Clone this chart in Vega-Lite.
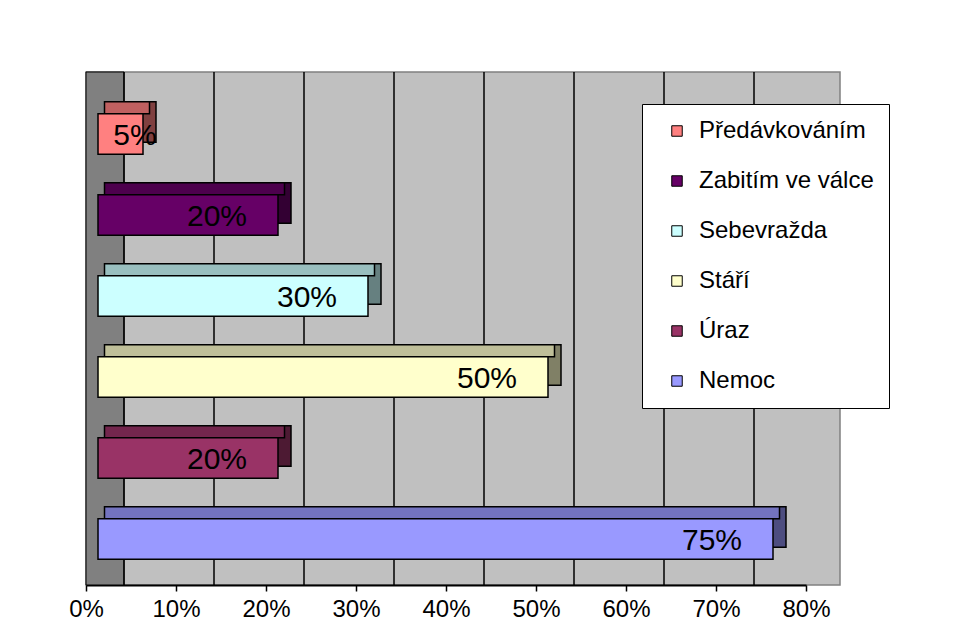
{
  "$schema": "https://vega.github.io/schema/vega-lite/v6.json",
  "width": 754,
  "height": 513,
  "autosize": {"type": "none"},
  "padding": {"left": 86, "top": 72, "right": 128, "bottom": 54},
  "background": "white",
  "config": {
    "view": {"fill": "#C0C0C0", "stroke": "#808080", "strokeWidth": 1.5},
    "font": "Liberation Sans"
  },
  "datasets": {
    "bars": [
      {"cause": "Předávkováním", "value": 0.05},
      {"cause": "Zabitím ve válce", "value": 0.20},
      {"cause": "Sebevražda", "value": 0.30},
      {"cause": "Stáří", "value": 0.50},
      {"cause": "Úraz", "value": 0.20},
      {"cause": "Nemoc", "value": 0.75}
    ],
    "grid": [
      {"value": 0}, {"value": 0.1}, {"value": 0.2}, {"value": 0.3},
      {"value": 0.4}, {"value": 0.5}, {"value": 0.6}, {"value": 0.7}
    ]
  },
  "encoding": {
    "x": {
      "field": "value",
      "type": "quantitative",
      "scale": {"domain": [0, 0.8], "range": [12, 732], "nice": false, "zero": true},
      "axis": {
        "format": ".0%",
        "values": [0, 0.1, 0.2, 0.3, 0.4, 0.5, 0.6, 0.7, 0.8],
        "title": null,
        "grid": false,
        "labelFlush": false,
        "labelFontSize": 24,
        "labelFont": "Liberation Sans",
        "labelColor": "black",
        "domainColor": "black",
        "domainWidth": 2,
        "tickColor": "black",
        "tickSize": 6,
        "tickWidth": 1.5,
        "labelPadding": 6,
        "translate": -11.5,
        "offset": 12
      }
    }
  },
  "layer": [
    {
      "data": {"name": "grid"},
      "transform": [{"filter": "datum.value == 0"}],
      "mark": {"type": "rect", "xOffset": -12, "x2Offset": 26, "fill": "#808080", "stroke": "black", "strokeWidth": 1},
      "encoding": {"x2": {"field": "value"}}
    },
    {
      "data": {"name": "grid"},
      "mark": {"type": "rule", "xOffset": 26, "color": "black", "strokeWidth": 1.5},
      "encoding": {}
    },
    {
      "data": {"name": "bars"},
      "mark": {"type": "bar", "xOffset": 13, "yOffset": -12, "stroke": "black", "strokeWidth": 1.5},
      "encoding": {
        "y": {
          "field": "cause", "type": "nominal",
          "scale": {
            "domain": ["Předávkováním", "Zabitím ve válce", "Sebevražda", "Stáří", "Úraz", "Nemoc"],
            "paddingInner": 0.5, "paddingOuter": 0.4167, "align": 0.62
          },
          "axis": null
        },
        "color": {
          "field": "cause", "type": "nominal",
          "scale": {
            "domain": ["Předávkováním", "Zabitím ve válce", "Sebevražda", "Stáří", "Úraz", "Nemoc"],
            "range": ["#804040", "#330033", "#668080", "#808066", "#4D1A33", "#4D4D80"]
          },
          "legend": null
        }
      }
    },
    {
      "data": {"name": "bars"},
      "mark": {"type": "bar", "height": 12, "xOffset": 6.5, "yOffset": -26.25, "stroke": "black", "strokeWidth": 1.5},
      "encoding": {
        "y": {"field": "cause", "type": "nominal", "axis": null},
        "color": {
          "field": "cause", "type": "nominal",
          "scale": {
            "domain": ["Předávkováním", "Zabitím ve válce", "Sebevražda", "Stáří", "Úraz", "Nemoc"],
            "range": ["#C06060", "#4D004D", "#99BFBF", "#BFBF99", "#73264D", "#7373BF"]
          },
          "legend": null
        }
      }
    },
    {
      "data": {"name": "bars"},
      "mark": {"type": "bar", "stroke": "black", "strokeWidth": 1.5},
      "encoding": {
        "y": {"field": "cause", "type": "nominal", "axis": null},
        "color": {
          "field": "cause", "type": "nominal",
          "scale": {
            "domain": ["Předávkováním", "Zabitím ve válce", "Sebevražda", "Stáří", "Úraz", "Nemoc"],
            "range": ["#FF8080", "#660066", "#CCFFFF", "#FFFFCC", "#993366", "#9999FF"]
          },
          "legend": {
            "orient": "none",
            "legendX": 556,
            "legendY": 32,
            "title": null,
            "fillColor": "white",
            "strokeColor": "black",
            "padding": 15,
            "symbolType": "square",
            "symbolSize": 110,
            "symbolStrokeColor": "black",
            "symbolStrokeWidth": 1,
            "symbolOffset": 8,
            "labelFontSize": 24,
            "labelFont": "Liberation Sans",
            "labelColor": "black",
            "labelOffset": 10,
            "labelLimit": 300,
            "rowPadding": 26
          }
        }
      }
    },
    {
      "data": {"name": "bars"},
      "transform": [{"filter": "datum.value >= 0.1"}],
      "mark": {"type": "text", "align": "right", "baseline": "middle", "dx": -31, "dy": 2, "fontSize": 30, "font": "Liberation Sans", "color": "black"},
      "encoding": {
        "y": {"field": "cause", "type": "nominal", "axis": null},
        "text": {"field": "value", "type": "quantitative", "format": ".0%"}
      }
    },
    {
      "data": {"name": "bars"},
      "transform": [{"filter": "datum.value < 0.1"}],
      "mark": {"type": "text", "align": "center", "baseline": "middle", "dx": -8, "dy": 2, "fontSize": 30, "font": "Liberation Sans", "color": "black"},
      "encoding": {
        "y": {"field": "cause", "type": "nominal", "axis": null},
        "text": {"field": "value", "type": "quantitative", "format": ".0%"}
      }
    }
  ],
  "resolve": {"scale": {"color": "independent"}}
}
